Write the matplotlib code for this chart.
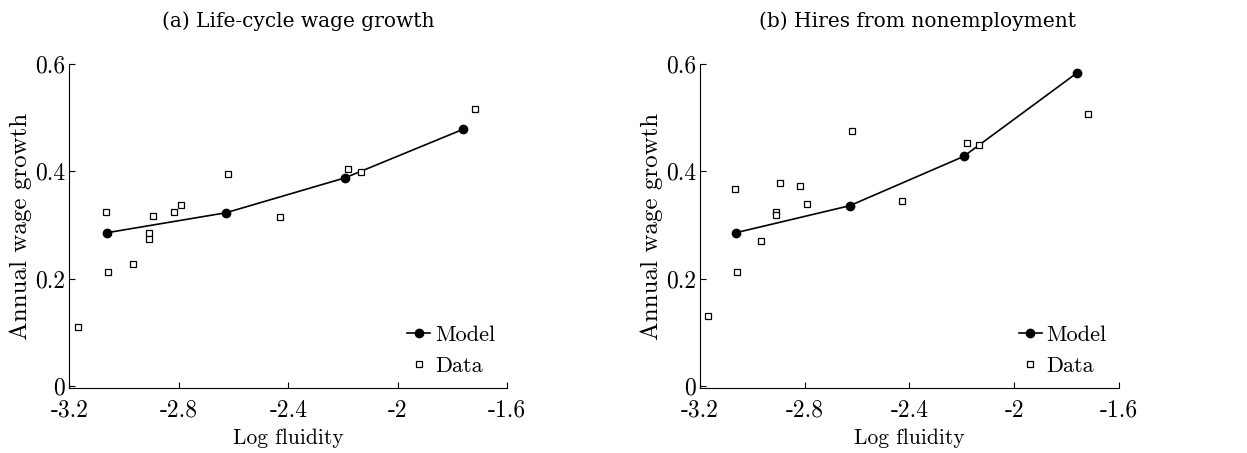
import numpy as np
import matplotlib
matplotlib.use("Agg")
import matplotlib.pyplot as plt

# log fluidity grid of the model and of the data cells
model_x = [-3.063, -2.628, -2.193, -1.760]
data_x = [-3.169, -3.067, -3.060, -2.966, -2.910, -2.910, -2.895,
          -2.819, -2.791, -2.621, -2.429, -2.182, -2.136, -1.717]

# (a) life-cycle wage growth
model_a = [0.2855, 0.3228, 0.388, 0.479]
data_a = [0.109, 0.324, 0.213, 0.227, 0.285, 0.274, 0.317,
          0.325, 0.338, 0.395, 0.314, 0.404, 0.399, 0.5175]

# (b) hires from nonemployment
model_b = [0.2855, 0.336, 0.428, 0.584]
data_b = [0.130, 0.368, 0.212, 0.271, 0.325, 0.319, 0.378,
          0.373, 0.340, 0.475, 0.345, 0.453, 0.449, 0.5075]

titles = ["(a) Life-cycle wage growth", "(b) Hires from nonemployment"]
xticks = [-3.2, -2.8, -2.4, -2.0, -1.6]
xticklabels = ["-3.2", "-2.8", "-2.4", "-2", "-1.6"]
yticks = [0, 0.2, 0.4, 0.6]
yticklabels = ["0", "0.2", "0.4", "0.6"]

plt.rcParams["font.family"] = ["cmr10", "DejaVu Serif"]
plt.rcParams["axes.unicode_minus"] = False

fig = plt.figure(figsize=(12.47, 4.53), dpi=100)
positions = [[0.0556, 0.1428, 0.3512, 0.7152],
             [0.5613, 0.1428, 0.3360, 0.7152]]
# captions sit a little off the axes centre, over each subfigure box
title_x = [0.239, 0.736]

for pos, tx, title, m, d in zip(positions, title_x, titles,
                                [model_a, model_b], [data_a, data_b]):
    ax = fig.add_axes(pos)
    ax.plot(model_x, m, "-o", color="black", lw=1.2, ms=6, label="Model")
    ax.plot(data_x, d, "s", mfc="white", mec="black", mew=0.9, ms=4.5,
            ls="none", label="Data")
    ax.set_xlim(-3.2, -1.6)
    ax.set_ylim(-0.005, 0.6)
    ax.set_xticks(xticks)
    ax.set_xticklabels(xticklabels)
    ax.set_yticks(yticks)
    ax.set_yticklabels(yticklabels)
    for s in ["top", "right"]:
        ax.spines[s].set_visible(False)
    for s in ["left", "bottom"]:
        ax.spines[s].set_linewidth(0.8)
    ax.tick_params(direction="in", length=4, width=0.8, labelsize=17)
    ax.tick_params(axis="x", pad=8)
    ax.tick_params(axis="y", pad=3)
    ax.set_xlabel("Log fluidity", fontsize=15.5, labelpad=5)
    ax.set_ylabel("Annual wage growth", fontsize=18, labelpad=2)
    fig.text(tx, 0.94, title, fontsize=14.5, family="DejaVu Serif",
             ha="center", va="baseline")
    ax.legend(loc="lower right", frameon=False, fontsize=16, handlelength=1.05,
              handletextpad=0.2, borderaxespad=0.15, labelspacing=0.53)

fig.savefig("out.png", dpi=100)
